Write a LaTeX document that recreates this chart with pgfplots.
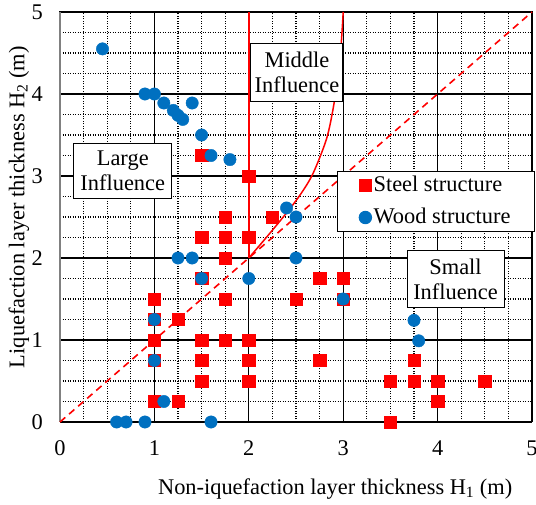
\documentclass[border=0pt]{standalone}
\usepackage{pgfplots}
\pgfplotsset{compat=1.18}
\usepackage{fontspec}
\setmainfont{Liberation Serif}
\definecolor{woodblue}{RGB}{0,112,192}
\begin{document}
\fontsize{22.4}{26}\selectfont
\begin{tikzpicture}
\begin{axis}[name=ax, scale only axis, width=472pt, height=410pt,
  xmin=0, xmax=5, ymin=0, ymax=5,
  xtick={0,1,2,3,4,5}, ytick={0,1,2,3,4,5},
  minor tick num=3, grid=both,
  major grid style={black, line width=1.2pt},
  minor grid style={black, line width=1.1pt, dash pattern=on 1pt off 1.5pt},
  major tick length=0pt, minor tick length=0pt,
  axis line style={black, line width=1pt},
  clip=false,
  /pgf/number format/assume math mode=true,
  tick label style={font=\fontsize{22.4}{26}\selectfont},
  xticklabel style={anchor=base, inner sep=0pt, yshift=-33pt},
  yticklabel style={anchor=east, inner sep=0pt, xshift=-17pt},
  xlabel={Non-iquefaction layer thickness H\textsubscript{1} (m)},
  ylabel={Liquefaction layer thickness H\textsubscript{2} (m)},
  xlabel style={at={(axis description cs:0.583,0)}, anchor=base, inner sep=0pt, yshift=-72pt},
  ylabel style={at={(axis description cs:-0.087,0.524)}, anchor=center, inner sep=0pt},
  legend style={at={(1,0.613)}, anchor=north east, xshift=3pt, draw=black, line width=1pt, fill=white,
    font=\fontsize{22.4}{26}\selectfont, inner xsep=22pt, inner ysep=3pt, row sep=9pt,
    nodes={inner xsep=2pt, inner ysep=2pt}},
  legend image code/.code={\draw[#1] plot coordinates {(0pt,0pt)};},
  legend cell align=left,
]
\draw[gray, line width=1.2pt] (rel axis cs:0,0) -- (rel axis cs:0,1);
\addplot[red, line width=1.6pt, dash pattern=on 7pt off 5pt, forget plot] coordinates {(0,0) (5,5)};
\addplot[red, line width=1.5pt, forget plot] coordinates {(2,2) (2,5)};
\addplot[red, line width=1.5pt, smooth, forget plot] coordinates {
(2,2) (2.2,2.27) (2.4,2.55) (2.55,2.78) (2.68,3.03) (2.82,3.44) (2.89,3.8) (2.95,4.25) (2.98,4.63) (3,5)};
\addplot[only marks, mark=square*, mark size=6.2pt, red, mark options={draw=red, fill=red}] coordinates {
(1.5,3.25) (2,3) (1.75,2.5) (2.25,2.5) (1.5,2.25) (1.75,2.25) (2,2.25) (1.75,2)
(1.5,1.75) (1,1.5) (1.75,1.5) (2.5,1.5) (1,1.25) (1.25,1.25) (1,1) (1.5,1)
(1.75,1) (2,1) (1,0.75) (1.5,0.75) (2,0.75) (1.5,0.5) (2,0.5) (1,0.25)
(1.25,0.25) (2.75,1.75) (3,1.75) (3,1.5) (2.75,0.75) (3.75,0.75) (3.5,0.5)
(3.75,0.5) (4,0.5) (4.5,0.5) (4,0.25) (3.5,0)};
\addlegendentry{Steel structure}
\addplot[only marks, mark=*, mark size=6.2pt, woodblue, mark options={draw=woodblue, fill=woodblue}] coordinates {
(0.45,4.55) (0.9,4) (1,4) (1.1,3.89) (1.2,3.8) (1.25,3.74) (1.3,3.69) (1.4,3.89)
(1.5,3.5) (1.6,3.25) (1.8,3.2) (2.4,2.61) (2.5,2.5) (1.25,2) (1.4,2) (2.5,2)
(1.5,1.75) (2,1.75) (1,1.25) (1,0.75) (1.1,0.25) (0.6,0) (0.7,0) (0.9,0)
(1.6,0) (3,1.5) (3.75,1.24) (3.8,0.99)};
\addlegendentry{Wood structure}
\node[draw=black, line width=1pt, fill=white, align=center, inner sep=0pt, minimum width=98pt, minimum height=55pt, font=\fontsize{22.4}{25}\selectfont] at (axis cs:0.665,3.06) {Large\\Influence};
\node[draw=black, line width=1pt, fill=white, align=center, inner sep=0pt, minimum width=92pt, minimum height=58pt, font=\fontsize{22.4}{25}\selectfont] at (axis cs:2.51,4.26) {Middle\\Influence};
\node[draw=black, line width=1pt, fill=white, align=center, inner sep=0pt, minimum width=97pt, minimum height=57pt, font=\fontsize{22.4}{25}\selectfont] at (axis cs:4.19,1.74) {Small\\Influence};
\end{axis}
\pgfresetboundingbox
\path[use as bounding box] ([xshift=-60pt,yshift=-82pt]ax.south west) rectangle ([xshift=4pt,yshift=12pt]ax.north east);
\end{tikzpicture}
\end{document}
